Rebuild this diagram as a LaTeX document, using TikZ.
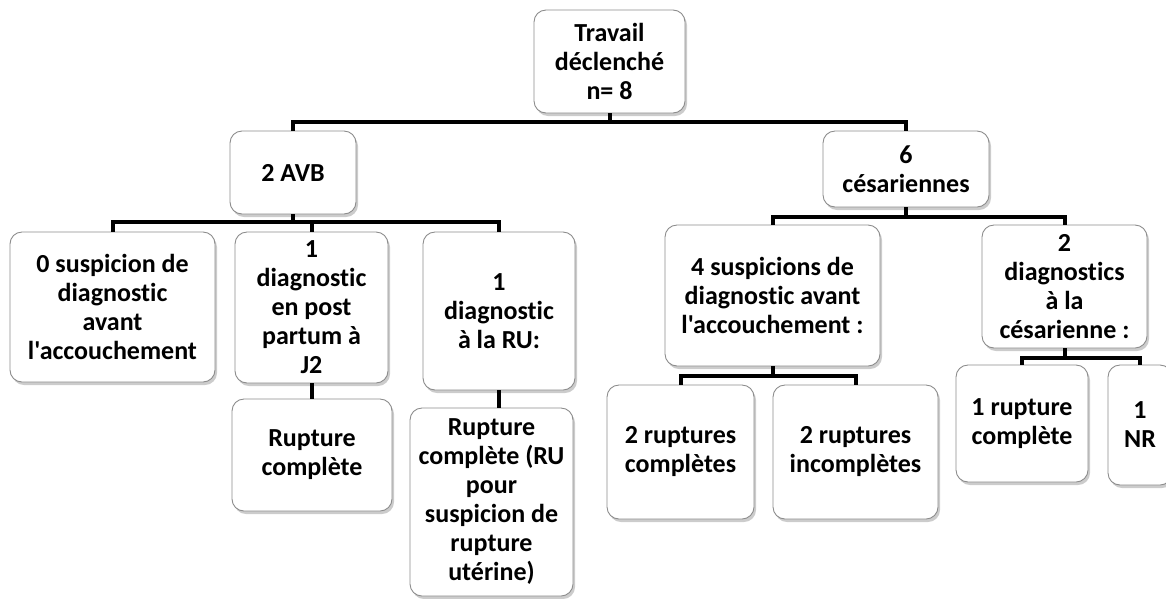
\documentclass[tikz,border=0pt]{standalone}
\usepackage{fontspec}
\newfontfamily\calfont{Carlito}[Ligatures=NoCommon]
\usetikzlibrary{shadows}
\begin{document}
\begin{tikzpicture}[x=1pt,y=-1pt,
  box/.style={draw=black!45, line width=0.9pt, fill=white, rounded corners=12pt,
    align=center, inner sep=0pt, font=\calfont\fontsize{26}{29}\selectfont\bfseries,
    drop shadow={shadow xshift=2pt, shadow yshift=-3pt, fill=black!40, opacity=0.5}},
  conn/.style={line width=4pt, draw=black}]
\useasboundingbox (0,0) rectangle (1166,598);
% nodes
\node[box, minimum width=151pt, minimum height=103pt] (root) at (609.5,61.5) {Travail\\déclenché\\n= 8};
\node[box, minimum width=126pt, minimum height=83pt] (avb) at (293,172.5) {2 AVB};
\node[box, minimum width=166pt, minimum height=76pt] (ces) at (906,169) {6\\césariennes};
\node[box, minimum width=205pt, minimum height=150pt] (b1) at (112.5,307) {0 suspicion de\\diagnostic\\avant\\l'accouchement};
\node[box, minimum width=153pt, minimum height=151pt] (b2) at (311.5,307.5) {1\\diagnostic\\en post\\partum à\\J2};
\node[box, minimum width=152pt, minimum height=158pt] (b3) at (499,311) {1\\diagnostic\\à la RU:};
\node[box, minimum width=160pt, minimum height=112pt] (b2a) at (312,455) {Rupture\\complète};
\node[box, minimum width=163pt, minimum height=188pt] (b3a) at (491.5,502) {Rupture\\complète (RU\\pour\\suspicion de\\rupture\\utérine)};
\node[box, minimum width=215pt, minimum height=141pt] (b4) at (772.5,295.5) {4 suspicions de\\diagnostic avant\\l'accouchement :};
\node[box, minimum width=165pt, minimum height=123pt] (b5) at (1064.5,286.5) {2\\diagnostics\\à la\\césarienne :};
\node[box, minimum width=147pt, minimum height=134pt] (b4a) at (680.5,452) {2 ruptures\\complètes};
\node[box, minimum width=165pt, minimum height=134pt] (b4b) at (855.5,452) {2 ruptures\\incomplètes};
\node[box, minimum width=132pt, minimum height=117pt] (b5a) at (1022,423.5) {1 rupture\\complète};
\node[box, minimum width=64pt, minimum height=120pt] (b5b) at (1140,425) {1\\NR};
% bus coordinates
\coordinate (bus0) at (0,122);
\coordinate (bus1) at (0,222);
\coordinate (bus2) at (0,217);
\coordinate (bus3) at (0,376);
\coordinate (bus4) at (0,358);
% connectors
\draw[conn] (root) -- (root|-bus0) -| (avb);
\draw[conn] (root) -- (root|-bus0) -| (ces);
\draw[conn] (avb) -- (avb|-bus1) -| (b1);
\draw[conn] (avb) -- (avb|-bus1) -| (b2);
\draw[conn] (avb) -- (avb|-bus1) -| (b3);
\draw[conn] (b2) -- (b2|-b2a.north);
\draw[conn] (b3) -- (b3|-b3a.north);
\draw[conn] (ces) -- (ces|-bus2) -| (b4);
\draw[conn] (ces) -- (ces|-bus2) -| (b5);
\draw[conn] (b4) -- (b4|-bus3) -| (b4a);
\draw[conn] (b4) -- (b4|-bus3) -| (b4b);
\draw[conn] (b5) -- (b5|-bus4) -| (b5a);
\draw[conn] (b5) -- (b5|-bus4) -| (b5b);
\end{tikzpicture}
\end{document}
